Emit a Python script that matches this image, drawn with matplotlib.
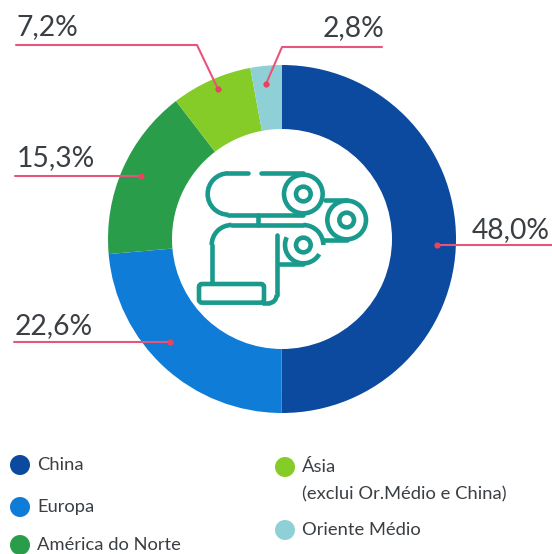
import numpy as np
import matplotlib
matplotlib.use("Agg")
import matplotlib.pyplot as plt
from matplotlib.patches import Circle, Arc, FancyBboxPatch

regions = ["China", "Europa", "América do Norte", "Ásia\n(exclui Or.Médio e China)", "Oriente Médio"]
shares = [48.0, 22.6, 15.3, 7.2, 2.8]
share_labels = ["48,0%", "22,6%", "15,3%", "7,2%", "2,8%"]
colors = ["#0b4a9e", "#0f7dd8", "#2a9d4b", "#86cc28", "#8fd0d6"]

FONT = "Lato"
TXT = "#3a3f44"
PINK = "#e8557a"
TEAL = "#1a9a8c"

fig = plt.figure(figsize=(5.52, 5.54), dpi=100)
ax = fig.add_axes([0, 0, 1, 1])
CX, CY, R, r = 282, 239, 174, 110
ax.pie(shares, colors=colors, startangle=-90, counterclock=True, center=(CX, CY), radius=R,
       wedgeprops=dict(width=R - r, linewidth=0), frame=True)
ax.set_xlim(0, 552)
ax.set_ylim(554, 0)
ax.set_aspect("equal")
ax.set_axis_off()

# leader lines and labels
leaders = [
    ([552, 437], [245, 245], (472, 238)),
    ([14, 170], [342, 342], (15, 334)),
    ([15, 141], [176, 176], (17, 166)),
    ([16, 197, 218], [45, 45, 89], (17, 35)),
    ([382, 282, 266], [47, 47, 84], (323, 36)),
]
for (xs, ys, pos), lab in zip(leaders, share_labels):
    ax.plot(xs, ys, color=PINK, lw=1.5, solid_capstyle="round", solid_joinstyle="round", zorder=4)
    ax.plot(xs[-1], ys[-1], "o", color="#e8435f", ms=4.5, mew=0, zorder=5)
    ax.text(pos[0], pos[1], lab, fontsize=20.3, family=FONT, color=TXT, va="baseline", ha="left", zorder=6)

# icon, laid out in a local grid
ox, oy, s = 130, 130, 1 / 3
lw = 3.3
def X(v): return ox + v * s
def Y(v): return oy + v * s
def seg(xs, ys):
    ax.plot([X(v) for v in xs], [Y(v) for v in ys], color=TEAL, lw=lw,
            solid_capstyle="round", solid_joinstyle="round", zorder=3)
def circ(cx, cy, rad):
    ax.add_patch(Circle((X(cx), Y(cy)), rad * s, fill=False, ec=TEAL, lw=lw, zorder=3))
def arc(cx, cy, rad, a0, a1):
    ax.add_patch(Arc((X(cx), Y(cy)), 2 * rad * s, 2 * rad * s, theta1=a0, theta2=a1, ec=TEAL, lw=lw, zorder=3))

# upper roll
seg([355, 295], [130, 130]); seg([392, 520], [130, 130]); seg([295, 520], [255, 255])
arc(295, 192, 62, 90, 270)
circ(520, 192, 58); circ(520, 192, 22)
# right roll
seg([585, 650], [210, 210]); seg([580, 650], [330, 330])
circ(650, 270, 58); circ(650, 270, 22)
# connector
seg([385, 385], [255, 285])
# lower sheet and roll
seg([245, 245], [460, 345]); arc(305, 345, 60, 180, 270)
seg([305, 520], [285, 285]); arc(520, 345, 60, 270, 360)
arc(520, 345, 55, 30, 205)
circ(520, 345, 22)
seg([440, 440], [315, 495]); arc(415, 495, 25, 0, 90)
seg([445, 520], [402, 402])
ax.add_patch(FancyBboxPatch((X(207), Y(462)), 195 * s, 56 * s, boxstyle="round,pad=0,rounding_size=3",
                            fill=False, ec=TEAL, lw=lw, zorder=3))
seg([400, 415], [520, 520])

# legend
legend_pos = [(20, 465, 37, 465), (20, 507, 37, 507), (20, 545, 37, 545), (285, 467, 302, 467), (285, 530, 302, 530)]
for (bx, by, tx, ty), name, c in zip(legend_pos, regions, colors):
    ax.add_patch(Circle((bx, by), 10, fc=c, ec="none", zorder=3))
    for i, line in enumerate(name.split("\n")):
        ax.text(tx, ty + i * 27, line, fontsize=13.2, family=FONT, color=TXT, va="center", ha="left")

fig.savefig("out.png", dpi=100, facecolor="white")
